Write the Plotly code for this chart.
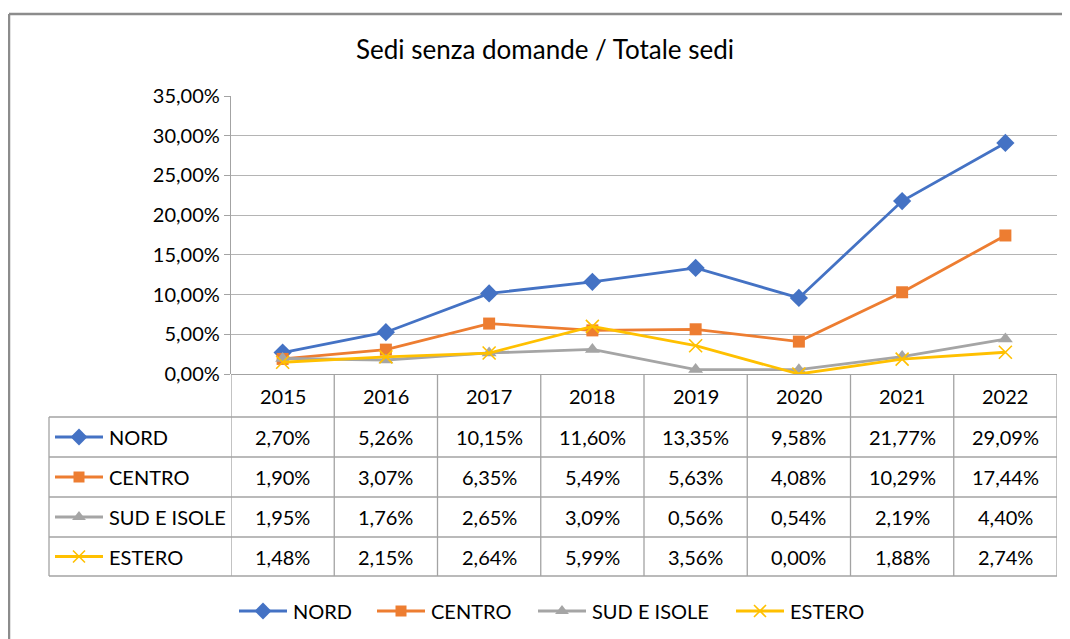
import plotly.graph_objects as go

# ---- data ----
years = ["2015", "2016", "2017", "2018", "2019", "2020", "2021", "2022"]
nord = [2.70, 5.26, 10.15, 11.60, 13.35, 9.58, 21.77, 29.09]
centro = [1.90, 3.07, 6.35, 5.49, 5.63, 4.08, 10.29, 17.44]
sud_isole = [1.95, 1.76, 2.65, 3.09, 0.56, 0.54, 2.19, 4.40]
estero = [1.48, 2.15, 2.64, 5.99, 3.56, 0.00, 1.88, 2.74]
series_names = ["NORD", "CENTRO", "SUD E ISOLE", "ESTERO"]
y_ticks = [0, 5, 10, 15, 20, 25, 30, 35]
title_text = "Sedi senza domande / Totale sedi"

# ---- style / layout (page pixel coordinates) ----
PW, PH = 1070, 639          # browser window
OFF = 8                      # default body margin of the html page
W, H = PW - OFF, PH - OFF    # figure size so the page fits the window
FONT = "Lato"
FS = 20
colors = ["#4472C4", "#ED7D31", "#A5A5A5", "#FFC000"]
symbols = ["diamond", "square", "triangle-up", "x-thin-open"]
msizes = [14, 12, 13, 13]
GRID = "#B4B4B4"
TBL = "#A3A3A3"

plot_l, plot_r, plot_t, plot_b = 231, 1057, 96, 374
row_edges = [374, 417, 457, 497, 537, 576]
table_left = 49
legend_line_x = [239, 377, 538, 736]   # bottom legend entry start positions
legend_y = 611

def fmt(v):
    return f"{v:.2f}%".replace(".", ",")

def fx(px):  # page x -> paper fraction
    return (px - OFF) / W

def fy(py):  # page y -> paper fraction
    return (PH - py) / H

series = [nord, centro, sud_isole, estero]
xs = list(range(len(years)))

def marker(c, s, ms):
    mk = dict(symbol=s, size=ms, color=c)
    if s == "x-thin-open":
        mk["line"] = dict(color=c, width=1.6)
    return mk

fig = go.Figure()
for name, vals, c, s, ms in zip(series_names, series, colors, symbols, msizes):
    fig.add_trace(go.Scatter(
        x=xs, y=vals, name=name, mode="lines+markers",
        line=dict(color=c, width=2.8), marker=marker(c, s, ms),
        xaxis="x", yaxis="y", showlegend=False))

shapes = []
annotations = []
txtfont = dict(family=FONT, size=FS, color="#000")

def legend_key(x0, yc, c, s, ms, name, textx):
    shapes.append(dict(type="line", xref="x2", yref="y2", x0=x0, x1=x0 + 48,
                       y0=yc, y1=yc, line=dict(color=c, width=2.8), layer="above"))
    fig.add_trace(go.Scatter(x=[x0 + 24], y=[yc], mode="markers", marker=marker(c, s, ms - 1),
                             showlegend=False, hoverinfo="skip",
                             xaxis="x2", yaxis="y2"))
    annotations.append(dict(xref="x2", yref="y2", x=textx, y=yc, text=name,
                            showarrow=False, xanchor="left", yanchor="middle",
                            font=txtfont))

# table rows with keys and values
for i, (name, c, s, ms) in enumerate(zip(series_names, colors, symbols, msizes)):
    yc = (row_edges[i + 1] + row_edges[i + 2]) / 2
    legend_key(55, yc, c, s, ms, name, 107)
    for j, v in enumerate(series[i]):
        annotations.append(dict(xref="x", yref="y2", x=j, y=yc, text=fmt(v),
                                showarrow=False, xanchor="center", yanchor="middle",
                                font=txtfont))

# bottom legend
for i, (name, c, s, ms) in enumerate(zip(series_names, colors, symbols, msizes)):
    legend_key(legend_line_x[i], legend_y, c, s, ms, name, legend_line_x[i] + 52)

# year header
for j, yr in enumerate(years):
    annotations.append(dict(xref="x", yref="y2", x=j, y=(row_edges[0] + row_edges[1]) / 2,
                            text=yr, showarrow=False, xanchor="center", yanchor="middle",
                            font=txtfont))

# table grid lines
for j in range(len(years) + 1):
    shapes.append(dict(type="line", xref="x", yref="y2", x0=j - 0.5, x1=j - 0.5,
                       y0=row_edges[0], y1=row_edges[-1], line=dict(color=TBL, width=1.3)))
for ye in row_edges[1:]:
    shapes.append(dict(type="line", xref="x2", yref="y2", x0=table_left, x1=plot_r,
                       y0=ye, y1=ye, line=dict(color=TBL, width=1.3)))
shapes.append(dict(type="line", xref="x2", yref="y2", x0=table_left, x1=table_left,
                   y0=row_edges[1], y1=row_edges[-1], line=dict(color=TBL, width=1.3)))

# outer chart frame (left and top edges visible)
shapes.append(dict(type="line", xref="x2", yref="y2", x0=9, x1=PW + 5, y0=14, y1=14,
                   line=dict(color="#8C8C8C", width=2.5)))
shapes.append(dict(type="line", xref="x2", yref="y2", x0=9, x1=9, y0=14, y1=PH + 5,
                   line=dict(color="#8C8C8C", width=2.5)))

fig.update_layout(
    width=W, height=H,
    margin=dict(l=0, r=0, t=0, b=0, autoexpand=False),
    paper_bgcolor="white", plot_bgcolor="rgba(0,0,0,0)",
    separators=",.",
    font=txtfont,
    title=dict(text=title_text, x=fx(545), xanchor="center", y=fy(50),
               yanchor="middle", font=dict(family=FONT, size=26, color="#000")),
    xaxis=dict(domain=[fx(plot_l), fx(plot_r)], range=[-0.5, len(years) - 0.5],
               showticklabels=False, showgrid=False, zeroline=False, ticks="",
               showline=False, fixedrange=True, anchor="y"),
    yaxis=dict(domain=[fy(plot_b), fy(plot_t)], range=[0, 35],
               tickvals=y_ticks, ticktext=[fmt(v) for v in y_ticks],
               showgrid=True, gridcolor=GRID, gridwidth=1.3,
               zeroline=True, zerolinecolor=TBL, zerolinewidth=1.3,
               showline=True, linecolor=TBL, linewidth=1.3,
               ticks="outside", ticklen=6, tickcolor=TBL, tickwidth=1.3,
               tickfont=txtfont, automargin=False,
               anchor="x", fixedrange=True),
    xaxis2=dict(domain=[0, 1], range=[OFF, PW], visible=False, anchor="y2", fixedrange=True),
    yaxis2=dict(domain=[0, 1], range=[PH, OFF], visible=False, anchor="x2", fixedrange=True),
    shapes=shapes,
    annotations=annotations,
    showlegend=False,
)

fig.write_html("out.html")
